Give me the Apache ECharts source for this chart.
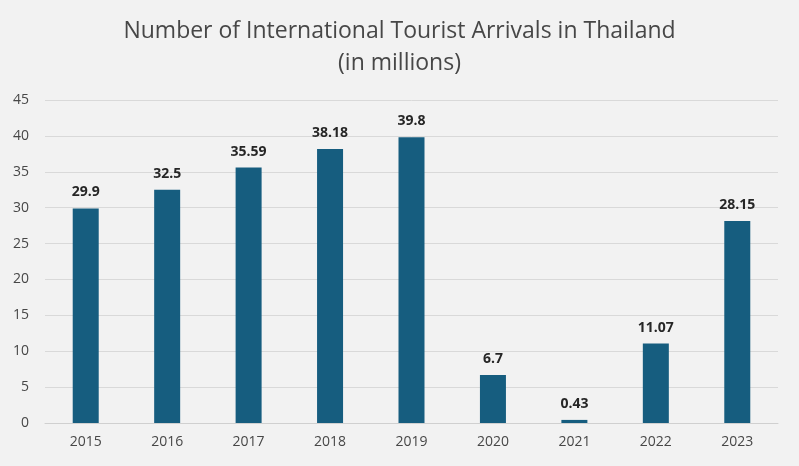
<!DOCTYPE html>
<html>
<head>
<meta charset="utf-8">
<script src="https://cdn.jsdelivr.net/npm/echarts@6/dist/echarts.min.js"></script>
<style>
  html, body { margin: 0; padding: 0; background: #f2f2f2; }
  #chart { width: 799px; height: 466px; }
</style>
</head>
<body>
<div id="chart"></div>
<script>
const years = ['2015', '2016', '2017', '2018', '2019', '2020', '2021', '2022', '2023']
const arrivals = [29.9, 32.5, 35.59, 38.18, 39.8, 6.7, 0.43, 11.07, 28.15]
const arrivalLabels = ['29.9', '32.5', '35.59', '38.18', '39.8', '6.7', '0.43', '11.07', '28.15']

const myChart = echarts.init(document.getElementById('chart'))

myChart.setOption({
  backgroundColor: '#f2f2f2',
  animation: false,
  title: {
    text: 'Number of International Tourist Arrivals in Thailand\n(in millions)',
    left: 'center',
    top: 10,
    textStyle: {
      fontFamily: 'Open Sans',
      fontSize: 23,
      fontWeight: 'normal',
      color: '#474747',
      lineHeight: 32
    }
  },
  grid: {
    left: 45,
    right: 21,
    top: 100,
    bottom: 43
  },
  xAxis: {
    type: 'category',
    data: years,
    axisLine: { lineStyle: { color: '#d0d0d0', width: 1 } },
    axisTick: { show: false },
    axisLabel: {
      color: '#474747',
      fontSize: 14,
      fontFamily: 'Open Sans',
      margin: 12
    }
  },
  yAxis: {
    type: 'value',
    min: 0,
    max: 45,
    interval: 5,
    axisLine: { show: false },
    axisTick: { show: false },
    axisLabel: {
      color: '#474747',
      fontSize: 14,
      fontFamily: 'Open Sans',
      margin: 16
    },
    splitLine: { lineStyle: { color: '#d9d9d9', width: 1 } }
  },
  series: [
    {
      type: 'bar',
      data: arrivals,
      barWidth: 26,
      itemStyle: { color: '#165d7f' },
      label: {
        show: true,
        position: 'top',
        distance: 9,
        color: '#262626',
        fontSize: 14,
        fontWeight: 'bold',
        fontFamily: 'Open Sans',
        formatter: (p) => arrivalLabels[p.dataIndex]
      }
    }
  ]
})
</script>
</body>
</html>
